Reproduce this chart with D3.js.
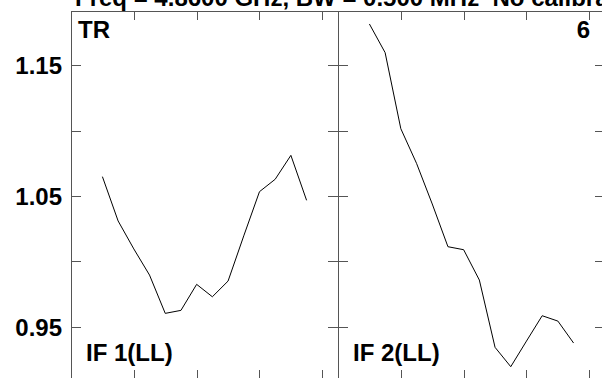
<!DOCTYPE html>
<html><head><meta charset="utf-8">
<script src="https://cdn.jsdelivr.net/npm/d3@7"></script>
<style>html,body{margin:0;padding:0;background:#fff;overflow:hidden}</style>
</head><body>
<svg id="c" width="602" height="378"></svg>
<script>
const title = "Freq = 4.8600 GHz, BW = 0.500 MHz  No calibration";
const channels = [2,3,4,5,6,7,8,9,10,11,12,13,14,15];
const if1Values = [1.0648,1.0309,1.0095,0.9895,0.9602,0.9625,0.9824,0.9729,0.9849,1.0195,1.0533,1.0628,1.0811,1.0467];
const if2Values = [1.1816,1.1597,1.1015,1.0750,1.0439,1.0112,1.0089,0.9857,0.9342,0.9194,0.9390,0.9584,0.9543,0.9375];
const panelLabels = ["IF 1(LL)", "IF 2(LL)"];
const yTickValues = [0.95,1.00,1.05,1.10,1.15];
const yLabelValues = [0.95,1.05,1.15];
const xTickValues = [0,4,8,12,16];
const cornerLeft = "TR", cornerRight = "6";

const svg = d3.select("#c");
const font = "Liberation Sans, Arial, Helvetica, sans-serif";
const plotTop = 11, plotBottom = 380, pw = 267;
const y = d3.scaleLinear().domain([0.95,1.15]).range([326.7,65.3]);
const panels = [{x0:71, vals:if1Values, label:panelLabels[0]},{x0:338, vals:if2Values, label:panelLabels[1]}];
const border = "#555";

svg.append("text").attr("x",75).attr("y",6).attr("font-family",font).attr("font-weight","bold")
  .attr("font-size",24).attr("fill","#000").style("white-space","pre").text(title);

panels.forEach((p,i)=>{
  const x = d3.scaleLinear().domain([0,17]).range([p.x0,p.x0+pw]);
  const g = svg.append("g");
  g.append("rect").attr("x",p.x0+0.5).attr("y",plotTop+0.5).attr("width",pw).attr("height",plotBottom-plotTop)
    .attr("fill","none").attr("stroke",border).attr("stroke-width",1);
  xTickValues.forEach(t=>{
    const xx = Math.round(x(t))+0.5;
    g.append("line").attr("x1",xx).attr("x2",xx).attr("y1",plotTop).attr("y2",plotTop+9).attr("stroke",border);
    g.append("line").attr("x1",xx).attr("x2",xx).attr("y1",plotBottom-10).attr("y2",plotBottom).attr("stroke",border);
  });
  yTickValues.forEach(t=>{
    const yy = Math.round(y(t))+0.5;
    g.append("line").attr("x1",p.x0).attr("x2",p.x0+10).attr("y1",yy).attr("y2",yy).attr("stroke",border);
    g.append("line").attr("x1",p.x0+pw-10).attr("x2",p.x0+pw).attr("y1",yy).attr("y2",yy).attr("stroke",border);
  });
  const line = d3.line().x((d,j)=>x(channels[j])).y(d=>y(d));
  g.append("path").datum(p.vals).attr("d",line).attr("fill","none").attr("stroke","#000").attr("stroke-width",1);
  g.append("text").attr("x",p.x0+15).attr("y",361).attr("font-family",font).attr("font-weight","bold")
    .attr("font-size",24).attr("fill","#000").text(p.label);
});

yLabelValues.forEach(v=>{
  svg.append("text").attr("x",62).attr("y",y(v)+9).attr("text-anchor","end")
    .attr("font-family",font).attr("font-weight","bold").attr("font-size",24).attr("fill","#000")
    .text(d3.format(".2f")(v));
});
svg.append("text").attr("x",78).attr("y",38).attr("font-family",font).attr("font-weight","bold")
  .attr("font-size",24).attr("fill","#000").text(cornerLeft);
svg.append("text").attr("x",590).attr("y",38).attr("text-anchor","end").attr("font-family",font).attr("font-weight","bold")
  .attr("font-size",24).attr("fill","#000").text(cornerRight);
</script>
</body></html>
